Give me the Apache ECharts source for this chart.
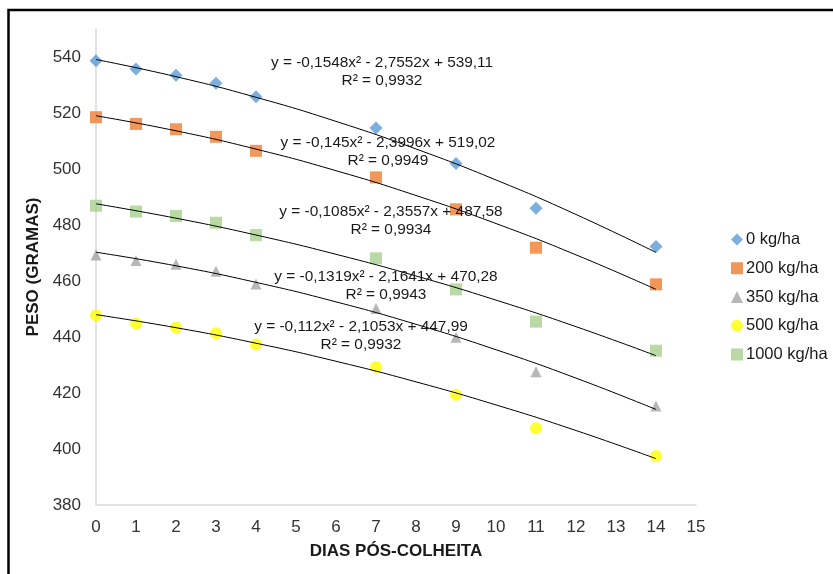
<!DOCTYPE html>
<html>
<head>
<meta charset="utf-8">
<script src="https://cdn.jsdelivr.net/npm/echarts@6/dist/echarts.min.js"></script>
<style>
html,body{margin:0;padding:0;background:#fff;}
#chart{width:833px;height:574px;}
</style>
</head>
<body>
<div id="chart"></div>
<script>
// ---- data ----
const days = [0, 1, 2, 3, 4, 7, 9, 11, 14];
const seriesNames = ['0 kg/ha', '200 kg/ha', '350 kg/ha', '500 kg/ha', '1000 kg/ha'];
const peso0    = [538.7, 535.7, 533.5, 530.6, 525.8, 514.6, 502.0, 486.0, 472.3];
const peso200  = [518.5, 516.1, 514.2, 511.5, 506.5, 497.0, 485.6, 471.9, 458.8];
const peso350  = [469.3, 467.3, 466.0, 463.5, 458.9, 450.2, 439.9, 427.6, 415.4];
const peso500  = [447.8, 444.8, 443.4, 441.3, 437.3, 429.3, 419.4, 407.4, 397.5];
const peso1000 = [486.9, 484.8, 483.2, 480.8, 476.4, 468.1, 457.0, 445.5, 435.1];

// trend lines
const trendDays = [0, 2, 4, 6, 8, 10, 12, 14];
const trend0    = [539.11, 532.98, 525.61, 517.01, 507.16, 496.08, 483.76, 470.20];
const trend200  = [519.02, 513.64, 507.10, 499.40, 490.54, 480.52, 469.34, 457.01];
const trend350  = [470.28, 465.42, 459.51, 452.55, 444.53, 435.45, 425.32, 414.13];
const trend500  = [447.99, 443.33, 437.78, 431.33, 423.98, 415.74, 406.60, 396.56];
const trend1000 = [487.58, 482.43, 476.42, 469.54, 461.79, 453.17, 443.69, 433.33];

const equations = [
  'y = -0,1548x² - 2,7552x + 539,11\nR² = 0,9932',
  'y = -0,145x² - 2,3996x + 519,02\nR² = 0,9949',
  'y = -0,1085x² - 2,3557x + 487,58\nR² = 0,9934',
  'y = -0,1319x² - 2,1641x + 470,28\nR² = 0,9943',
  'y = -0,112x² - 2,1053x + 447,99\nR² = 0,9932'
];
const xAxisName = 'DIAS PÓS-COLHEITA';
const yAxisName = 'PESO (GRAMAS)';

// ---- styling ----
const colors  = ['#5B9BD5', '#ED7D31', '#A5A5A5', '#FFFF00', '#A9D18E'];
const symbols = ['diamond', 'rect', 'triangle', 'circle', 'rect'];
const sizes   = [13, 12, 11, 12, 12];
const values  = [peso0, peso200, peso350, peso500, peso1000];
const trends  = [trend0, trend200, trend350, trend500, trend1000];
const eqPos   = [[382, 72], [388, 152], [391, 221], [386, 286], [361, 336]];

const FONT = '"Liberation Sans", Arial, sans-serif';

const series = [];
values.forEach((vals, i) => {
  series.push({
    name: seriesNames[i],
    type: 'scatter',
    symbol: symbols[i],
    symbolSize: sizes[i],
    itemStyle: { color: colors[i] },
    data: days.map((d, k) => [d, vals[k]]),
    z: 2
  });
});
trends.forEach((vals, i) => {
  series.push({
    name: 'trend' + i,
    type: 'line',
    smooth: true,
    showSymbol: false,
    symbol: 'none',
    silent: true,
    lineStyle: { color: '#000', width: 1 },
    data: trendDays.map((d, k) => [d, vals[k]]),
    z: 3
  });
});

const graphics = [
  {
    type: 'rect',
    shape: { x: 8.5, y: 10, width: 1000, height: 1000 },
    style: { fill: 'none', stroke: '#000', lineWidth: 2.5 },
    silent: true,
    z: 10
  }
];
equations.forEach((t, i) => {
  graphics.push({
    type: 'text',
    x: eqPos[i][0],
    y: eqPos[i][1],
    style: {
      text: t,
      fill: '#1a1a1a',
      font: '15.4px ' + FONT,
      textAlign: 'center',
      textVerticalAlign: 'middle',
      lineHeight: 18
    },
    z: 5
  });
});

const chart = echarts.init(document.getElementById('chart'), null, { renderer: 'canvas' });
chart.setOption({
  animation: false,
  backgroundColor: '#fff',
  textStyle: { fontFamily: FONT },
  grid: { left: 96, right: 137, top: 29, bottom: 69, containLabel: false },
  legend: {
    data: seriesNames.map((n, i) => ({ name: n, icon: symbols[i] })),
    orient: 'vertical',
    left: 726,
    top: 226,
    itemWidth: 12,
    itemHeight: 12,
    itemGap: 11.75,
    textStyle: { fontSize: 16.5, color: '#1a1a1a', fontFamily: FONT, padding: [0, 0, 0, -2] }
  },
  xAxis: {
    type: 'value',
    min: 0,
    max: 15,
    interval: 1,
    name: xAxisName,
    nameLocation: 'middle',
    nameGap: 38,
    nameTextStyle: { fontSize: 17, fontWeight: 'bold', color: '#1a1a1a', fontFamily: FONT },
    axisLine: { show: true, lineStyle: { color: '#d9d9d9', width: 1.5 } },
    axisTick: { show: false },
    splitLine: { show: false },
    axisLabel: { fontSize: 17, color: '#333', margin: 14, fontFamily: FONT }
  },
  yAxis: {
    type: 'value',
    min: 380,
    max: 550,
    interval: 20,
    name: yAxisName,
    nameLocation: 'middle',
    nameGap: 43,
    nameTextStyle: { fontSize: 17, fontWeight: 'bold', color: '#1a1a1a', fontFamily: FONT },
    axisLine: { show: true, lineStyle: { color: '#d9d9d9', width: 1.5 } },
    axisTick: { show: false },
    splitLine: { show: false },
    axisLabel: { fontSize: 17, color: '#333', margin: 15, fontFamily: FONT, showMaxLabel: false }
  },
  series: series,
  graphic: graphics
});
</script>
</body>
</html>
